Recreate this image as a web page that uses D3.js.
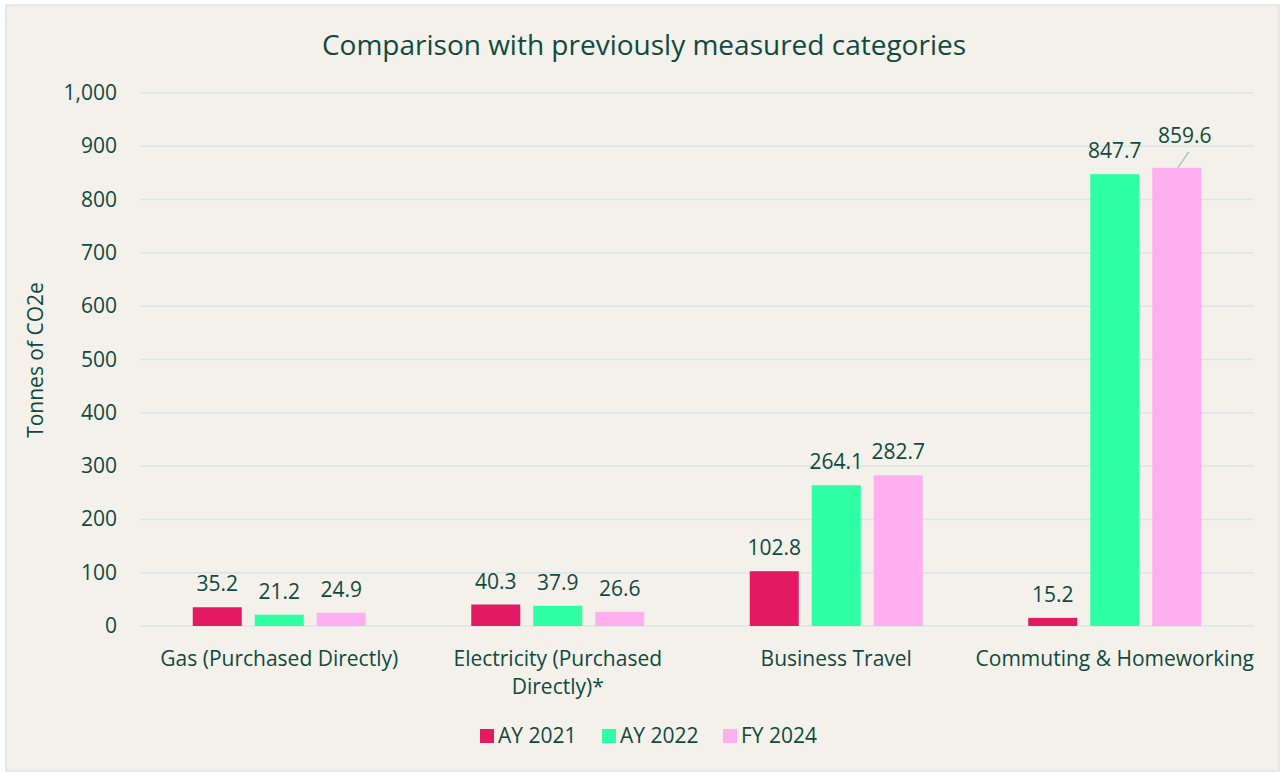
<!DOCTYPE html>
<html>
<head>
<meta charset="utf-8">
<script src="https://cdn.jsdelivr.net/npm/d3@7"></script>
<style>
  body { margin: 0; background: #fff; }
  text { font-family: "Open Sans", Lato, sans-serif; fill: #0f4a40; }
</style>
</head>
<body>
<svg width="1282" height="774"></svg>
<script>
// data
const categories = [["Gas (Purchased Directly)"], ["Electricity (Purchased", "Directly)*"], ["Business Travel"], ["Commuting & Homeworking"]];
const seriesNames = ["AY 2021", "AY 2022", "FY 2024"];
const ay2021 = [35.2, 40.3, 102.8, 15.2];
const ay2022 = [21.2, 37.9, 264.1, 847.7];
const fy2024 = [24.9, 26.6, 282.7, 859.6];
const yTicks = [0, 100, 200, 300, 400, 500, 600, 700, 800, 900, 1000];
const colors = ["#e31a62", "#2effa3", "#ffaeef"];

const series = [ay2021, ay2022, fy2024];

const svg = d3.select("svg");

// background + frame
svg.append("rect")
  .attr("x", 6).attr("y", 5).attr("width", 1273).attr("height", 766)
  .attr("fill", "#f4f1ea").attr("stroke", "#dce6e1").attr("stroke-width", 1.5);

const plotLeft = 140, plotRight = 1254, plotTop = 93, plotBottom = 626;

const x = d3.scaleBand().domain(d3.range(categories.length)).range([plotLeft, plotRight]);
const y = d3.scaleLinear().domain([0, 1000]).range([plotBottom, plotTop]);
const barW = 49, gap = 13;

// gridlines
svg.append("g")
  .selectAll("line")
  .data(yTicks)
  .enter().append("line")
  .attr("x1", plotLeft).attr("x2", plotRight)
  .attr("y1", d => y(d)).attr("y2", d => y(d))
  .attr("stroke", "#dce6e1").attr("stroke-width", 1.5);

// y tick labels
svg.append("g")
  .selectAll("text")
  .data(yTicks)
  .enter().append("text")
  .attr("x", 117).attr("y", d => y(d) + 7)
  .attr("text-anchor", "end")
  .attr("font-size", "21px")
  .text(d3.format(","));

// bars
const groupW = 3 * barW + 2 * gap;
const bx = (c, s) => x(c) + x.bandwidth() / 2 - groupW / 2 + s * (barW + gap);

series.forEach((vals, s) => {
  svg.append("g")
    .selectAll("rect")
    .data(vals)
    .enter().append("rect")
    .attr("x", (d, i) => bx(i, s))
    .attr("y", d => y(d))
    .attr("width", barW)
    .attr("height", d => plotBottom - y(d))
    .attr("fill", colors[s]);

  svg.append("g")
    .selectAll("text")
    .data(vals)
    .enter().append("text")
    .attr("x", (d, i) => {
      let cx = bx(i, s) + barW / 2;
      if (s === 2 && i === 3) cx += 8;
      return cx;
    })
    .attr("y", (d, i) => y(d) - (s === 2 && i === 3 ? 25 : 16))
    .attr("text-anchor", "middle")
    .attr("font-size", "21px")
    .text(d => d.toFixed(1));
});

// leader line for the moved label
svg.append("line")
  .attr("x1", bx(3, 2) + barW / 2 + 1).attr("y1", y(fy2024[3]))
  .attr("x2", bx(3, 2) + barW / 2 + 12).attr("y2", y(fy2024[3]) - 16)
  .attr("stroke", "#a9c7bf").attr("stroke-width", 1.5);

// category labels
const catLabels = svg.append("g")
  .selectAll("text")
  .data(categories)
  .enter().append("text")
  .attr("x", (d, i) => x(i) + x.bandwidth() / 2)
  .attr("y", 666)
  .attr("text-anchor", "middle")
  .attr("font-size", "21px");
catLabels.selectAll("tspan")
  .data(d => d)
  .enter().append("tspan")
  .attr("x", function() { return this.parentNode.getAttribute("x"); })
  .attr("dy", (d, i) => i === 0 ? 0 : 28)
  .text(d => d);

// title
svg.append("text")
  .attr("x", 644).attr("y", 55)
  .attr("text-anchor", "middle")
  .attr("font-size", "28px")
  .text("Comparison with previously measured categories");

// y axis title
svg.append("text")
  .attr("transform", "translate(43,360) rotate(-90)")
  .attr("text-anchor", "middle")
  .attr("font-size", "21px")
  .text("Tonnes of CO2e");

// legend
const legendX = [480, 602, 723];
const legend = svg.append("g")
  .selectAll("g")
  .data(seriesNames)
  .enter().append("g")
  .attr("transform", (d, i) => `translate(${legendX[i]},729)`);
legend.append("rect")
  .attr("width", 14).attr("height", 14)
  .attr("fill", (d, i) => colors[i]);
legend.append("text")
  .attr("x", 18).attr("y", 14)
  .attr("font-size", "21px")
  .text(d => d);
</script>
</body>
</html>
